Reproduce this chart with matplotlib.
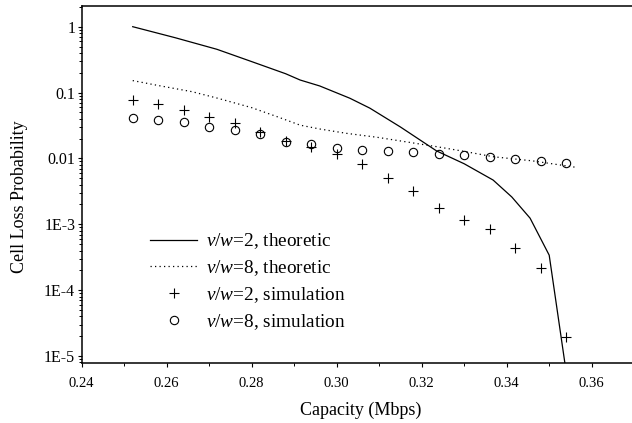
import matplotlib
matplotlib.use("Agg")
import matplotlib.pyplot as plt
from matplotlib.ticker import FixedLocator, FixedFormatter, LogLocator, NullFormatter, MultipleLocator

plt.rcParams['font.family'] = ['Liberation Serif', 'DejaVu Serif']
plt.rcParams['mathtext.fontset'] = 'custom'
plt.rcParams['mathtext.rm'] = 'Liberation Serif'
plt.rcParams['mathtext.it'] = 'Liberation Serif:italic'

# theoretic curves
theo2_x = [0.252, 0.262, 0.2718, 0.280, 0.288, 0.2914, 0.296, 0.3031, 0.3078,
           0.315, 0.3235, 0.330, 0.3368, 0.3412, 0.3455, 0.350, 0.354]
theo2_y = [1.0, 0.68, 0.454, 0.295, 0.193, 0.155, 0.126, 0.082, 0.058,
           0.030, 0.013, 0.0083, 0.0047, 0.0026, 0.00124, 0.00034, 5.7e-6]

theo8_x = [0.252, 0.258, 0.266, 0.272, 0.280, 0.286, 0.2914, 0.296, 0.3024,
           0.3094, 0.316, 0.3235, 0.330, 0.3369, 0.346, 0.3565]
theo8_y = [0.152, 0.128, 0.103, 0.082, 0.059, 0.043, 0.032, 0.028, 0.024,
           0.021, 0.018, 0.0151, 0.0128, 0.0106, 0.0092, 0.0073]

# simulation points
sim_x = [0.252, 0.258, 0.264, 0.270, 0.276, 0.282, 0.288, 0.294, 0.300,
         0.306, 0.312, 0.318, 0.324, 0.330, 0.336, 0.342, 0.348, 0.354]
sim2_y = [0.0773, 0.0664, 0.0538, 0.0422, 0.0349, 0.0252, 0.0182, 0.0149, 0.0117,
          0.0083, 0.00512, 0.00321, 0.00175, 0.00117, 0.000843, 0.000443, 0.000216, 1.98e-5]
sim8_y = [0.0412, 0.0388, 0.0354, 0.0301, 0.0274, 0.0235, 0.0180, 0.0164, 0.0143,
          0.0135, 0.0130, 0.0127, 0.0117, 0.0112, 0.0107, 0.0097, 0.0091, 0.0085]

labels = [r"$v/w$=2, theoretic", r"$v/w$=8, theoretic",
          r"$v/w$=2, simulation", r"$v/w$=8, simulation"]

ytick_vals = [1, 0.1, 0.01, 1e-3, 1e-4, 1e-5]
ytick_labels = ["1", "0.1", "0.01", "1E-3", "1E-4", "1E-5"]
xtick_vals = [0.24, 0.26, 0.28, 0.30, 0.32, 0.34, 0.36]
xtick_labels = ["0.24", "0.26", "0.28", "0.30", "0.32", "0.34", "0.36"]

fig = plt.figure(figsize=(6.32, 4.23), dpi=100)
ax = fig.add_axes([0.1293, 0.1411, 1.0 - 0.1293, 0.9858 - 0.1411])

ax.plot(theo2_x, theo2_y, color='black', lw=0.9, label=labels[0])
ax.plot(theo8_x, theo8_y, color='black', lw=0.9, linestyle=(0, (1, 2.6)), label=labels[1])
ax.plot(sim_x, sim2_y, linestyle='none', marker='+', color='black', markersize=6.5,
        markeredgewidth=0.8, label=labels[2])
ax.plot(sim_x, sim8_y, linestyle='none', marker='o', markerfacecolor='none',
        markeredgecolor='black', markersize=6, markeredgewidth=0.8, label=labels[3])

ax.set_yscale('log')
ax.set_xlim(0.24, 0.24 + (632 - 81.7) / 4250)
ax.set_ylim(10 ** -5.11, 10 ** 0.314)

ax.xaxis.set_major_locator(FixedLocator(xtick_vals))
ax.xaxis.set_major_formatter(FixedFormatter(xtick_labels))
ax.xaxis.set_minor_locator(MultipleLocator(0.01))
ax.yaxis.set_major_locator(FixedLocator(ytick_vals))
ax.yaxis.set_major_formatter(FixedFormatter(ytick_labels))
ax.yaxis.set_minor_locator(LogLocator(base=10, subs=range(2, 10), numticks=20))
ax.yaxis.set_minor_formatter(NullFormatter())

ax.tick_params(axis='both', which='major', direction='out', length=3.2, width=0.8)
ax.tick_params(axis='both', which='minor', direction='out', length=2.0, width=0.7)
ax.tick_params(axis='x', which='major', pad=6.5, labelsize=10.5)
ax.tick_params(axis='y', which='major', pad=1.5, labelsize=11.5)

for s in ['left', 'bottom', 'top']:
    ax.spines[s].set_linewidth(1.1)
ax.spines['right'].set_visible(False)

ax.set_xlabel("Capacity (Mbps)", fontsize=13)
ax.set_ylabel("Cell Loss Probability", fontsize=13)
ax.xaxis.set_label_coords((361 - 81.7) / 550.3, -(402 - 363.3) / 357.3)
ax.yaxis.set_label_coords(-(81.7 - 28) / 550.3, (363.3 - 196.5) / 357.3)
ax.xaxis.label.set_va('top')

leg = ax.legend(loc='center left', bbox_to_anchor=(150 / 632, 1 - 281.5 / 423),
                bbox_transform=fig.transFigure, frameon=False, fontsize=13.9,
                handlelength=2.45, handletextpad=0.45, labelspacing=0.36,
                borderpad=0, borderaxespad=0)

fig.savefig("out.png", dpi=100)
